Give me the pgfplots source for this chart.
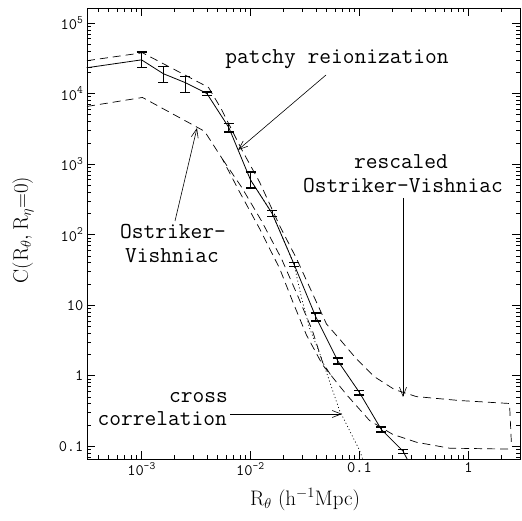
\documentclass[border=0pt]{standalone}
\usepackage{fontspec}
\usepackage{pgfplots}
\pgfplotsset{compat=1.18}
\usetikzlibrary{arrows.meta}
\newfontfamily\monofont{Latin Modern Mono}
\newcommand\ann{\monofont\fontsize{22.8bp}{24bp}\selectfont}
\newcommand\tk{\monofont\fontsize{16bp}{18bp}\selectfont}
\newcommand\tp[1]{10\textsuperscript{#1}}
\begin{document}
\begin{tikzpicture}
\useasboundingbox (-87bp,-62bp) rectangle (435bp,459bp);
\begin{axis}[
  scale only axis, width=433bp, height=451bp,
  xmode=log, ymode=log,
  xmin=3.16e-4, xmax=2.97, ymin=0.066, ymax=1.63e5,
  axis line style={line width=0.8pt},
  every tick/.style={black, line width=0.6pt},
  major tick length=8bp, minor tick length=4bp,
  xtick={1e-3,1e-2,0.1,1},
  xticklabels={\tp{-3},\tp{-2},0.1,1},
  minor xtick={4e-4,5e-4,6e-4,7e-4,8e-4,9e-4,2e-3,3e-3,4e-3,5e-3,6e-3,7e-3,8e-3,9e-3,2e-2,3e-2,4e-2,5e-2,6e-2,7e-2,8e-2,9e-2,0.2,0.3,0.4,0.5,0.6,0.7,0.8,0.9,2},
  ytick={0.1,1,10,100,1000,10000,100000},
  yticklabels={0.1,1,10,\tp{2},\tp{3},\tp{4},\tp{5}},
  minor ytick={0.07,0.08,0.09,0.2,0.3,0.4,0.5,0.6,0.7,0.8,0.9,2,3,4,5,6,7,8,9,20,30,40,50,60,70,80,90,200,300,400,500,600,700,800,900,2000,3000,4000,5000,6000,7000,8000,9000,20000,30000,40000,50000,60000,70000,80000,90000},
  xticklabel style={font=\tk},
  yticklabel style={font=\tk},
]
% rescaled Ostriker-Vishniac (upper dashed)
\addplot[black, line width=0.7pt, dash pattern=on 8bp off 5bp] coordinates {
 (3.16e-4,29200) (1.02e-3,37800) (4.12e-3,12200) (5.42e-3,5960) (8.26e-3,1630)
 (1.21e-2,557) (1.85e-2,134) (2.64e-2,45.9) (3.63e-2,15.7) (4.98e-2,5.40)
 (6.56e-2,3.32) (9.38e-2,1.73) (0.137,0.968) (0.210,0.635) (0.333,0.506)
 (0.826,0.445) (2.38,0.404) (2.48,0.105)
};
% Ostriker-Vishniac (lower dashed)
\addplot[black, line width=0.7pt, dash pattern=on 8bp off 5bp] coordinates {
 (3.16e-4,6560) (1.02e-3,8790) (3.79e-3,2915) (5.53e-3,1175) (7.93e-3,404)
 (1.21e-2,122) (1.85e-2,33.2) (2.43e-2,11.4) (3.26e-2,3.78) (4.58e-2,1.43)
 (7.60e-2,0.54) (0.1236,0.232) (0.201,0.148) (0.333,0.114) (0.67,0.094) (2.48,0.091)
};
% second dashed branch
\addplot[black, line width=0.7pt, dash pattern=on 8bp off 5bp] coordinates {
 (5.53e-3,1175) (8.26e-3,474) (1.26e-2,157) (1.92e-2,45.9) (2.70e-2,13.8)
 (3.71e-2,4.30) (4.58e-2,1.55) (5.5e-2,1.0)
};
% cross correlation (dotted)
\addplot[black, line width=0.7pt, dash pattern=on 1bp off 2.5bp] coordinates {
 (1e-2,596) (1.585e-2,198) (2.512e-2,37.8) (2.94e-2,12.6) (3.48e-2,4.74)
 (4.58e-2,1.63) (6.56e-2,0.321) (0.1,0.088) (0.107,0.066) (0.115,0.05)
};
% patchy reionization (solid with error bars)
\addplot[black, line width=0.8pt, mark=none,
  error bars/.cd, y dir=both, y explicit,
  error bar style={line width=0.8pt},
  error mark options={rotate=90, mark size=5bp, line width=1.4pt}]
 coordinates {
 (3.16e-4,23200) += (0,0) -= (0,0)
 (1e-3,30000) += (0,8900) -= (0,6800)
 (1.585e-3,19100) += (0,4900) -= (0,4800)
 (2.512e-3,14300) += (0,3000) -= (0,4000)
 (3.981e-3,10000) += (0,500) -= (0,630)
 (6.31e-3,3320) += (0,460) -= (0,490)
 (1e-2,596) += (0,175) -= (0,137)
 (1.585e-2,198) += (0,20) -= (0,18)
 (2.512e-2,37.8) += (0,2.5) -= (0,2.4)
 (3.981e-2,6.78) += (0,0.93) -= (0,0.82)
 (6.31e-2,1.63) += (0,0.16) -= (0,0.16)
 (0.1,0.577) += (0,0.044) -= (0,0.042)
 (0.1585,0.173) += (0,0.015) -= (0,0.013)
 (0.2512,0.0851) += (0,0.0057) -= (0,0.0055)
 (0.3,0.05) += (0,0) -= (0,0)
};
\end{axis}
% annotations (picture coordinates in bp, axis lower-left at origin)
\node[anchor=base, font=\ann, inner sep=0] at (250bp,395bp) {patchy reionization};
\draw[line width=0.6pt, -{Straight Barb[length=9bp,width=7bp]}] (239bp,384bp) -- (151bp,309bp);
\node[anchor=base, font=\ann, inner sep=0] at (314bp,290bp) {rescaled};
\node[anchor=base, font=\ann, inner sep=0] at (316bp,266bp) {Ostriker–Vishniac};
\draw[line width=0.6pt, -{Straight Barb[length=9bp,width=7bp]}] (316bp,261bp) -- (316bp,62bp);
\node[anchor=base, font=\ann, inner sep=0] at (86bp,220bp) {Ostriker–};
\node[anchor=base, font=\ann, inner sep=0] at (85bp,196bp) {Vishniac};
\draw[line width=0.6pt, -{Straight Barb[length=9bp,width=7bp]}] (88bp,238bp) -- (110bp,331bp);
\node[anchor=base east, font=\ann, inner sep=0] at (141bp,56bp) {cross};
\node[anchor=base east, font=\ann, inner sep=0] at (140bp,34bp) {correlation};
\draw[line width=0.6pt, -{Straight Barb[length=9bp,width=7bp]}] (143bp,45bp) -- (255bp,45bp);
% axis labels
\node[rotate=90, font=\fontsize{21bp}{24bp}\selectfont] at (-64bp,229bp) {$\mathrm{C(R_{\theta},R_{\eta}{=}0)}$};
\node[anchor=base, font=\fontsize{21bp}{24bp}\selectfont] at (218bp,-46bp) {R$_\theta$ (h$^{-1}$Mpc)};
\end{tikzpicture}
\end{document}
